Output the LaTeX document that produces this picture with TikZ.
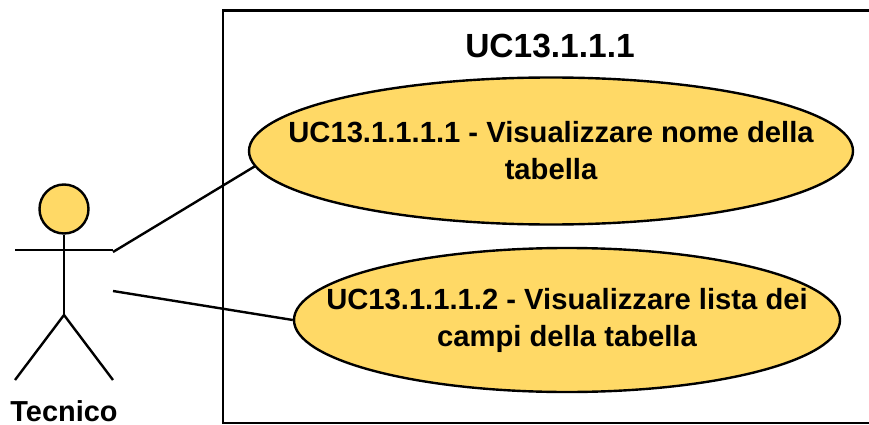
\documentclass[tikz,border=0pt]{standalone}
\usepackage{fontspec}
\setmainfont{Liberation Sans}
\usetikzlibrary{shapes.geometric}
\definecolor{ucfill}{HTML}{FFD966}
\tikzset{
    usecase/.style={draw, ellipse, fill=ucfill, inner ysep=0pt, inner xsep=-50pt, align=center, font=\bfseries\fontsize{29.2}{37}\selectfont}
}
\begin{document}
\begin{tikzpicture}[x=1pt, y=-1pt, line width=2.4pt]
    \useasboundingbox (0,0) rectangle (869,425);
    \node[draw, minimum width=652pt, minimum height=412.5pt, anchor=north west] (system) at (222,9.5) {};
    \node[font=\bfseries\fontsize{33.5}{38}\selectfont] (title) at (550,46) {UC13.1.1.1};
    \node[usecase, minimum width=604pt, minimum height=147pt] (uca) at (551,151) {UC13.1.1.1.1 - Visualizzare nome della\\tabella};
    \node[usecase, minimum width=546pt, minimum height=144pt] (ucb) at (567,320) {UC13.1.1.1.2 - Visualizzare lista dei\\campi della tabella};
    \node[draw, circle, fill=ucfill, minimum size=49pt, inner sep=0pt] (head) at (64,209) {};
    \coordinate (hip) at (64,315);
    \coordinate (handl) at (15,250);
    \coordinate (handr) at (113,250);
    \coordinate (footl) at (15,380);
    \coordinate (footr) at (113,380);
    \coordinate (anchora) at (113,252);
    \coordinate (anchorb) at (113,291);
    \draw (head) -- (hip);
    \draw (handl) -- (handr);
    \draw (footl) -- (hip) -- (footr);
    \node[inner sep=0pt, font=\bfseries\fontsize{28.9}{33}\selectfont] (actor) at (64,411.5) {Tecnico};
    \draw (anchora) -- (uca.183);
    \draw (anchorb) -- (ucb.west);
\end{tikzpicture}
\end{document}
